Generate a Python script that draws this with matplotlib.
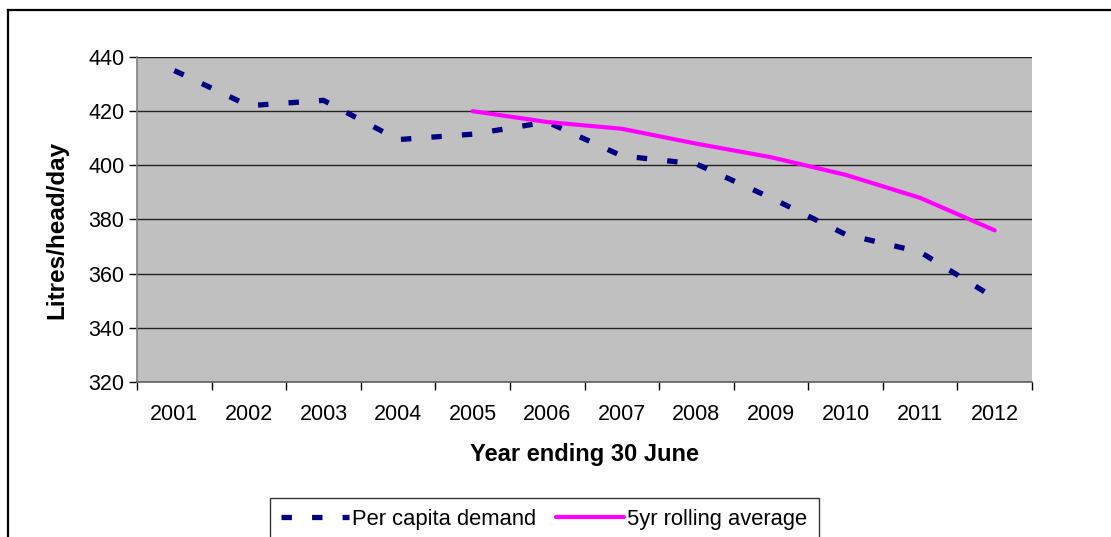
import numpy as np
import matplotlib
matplotlib.use("Agg")
import matplotlib.pyplot as plt
from matplotlib.lines import Line2D

plt.rcParams['font.family'] = ['Liberation Sans', 'DejaVu Sans']
plt.rcParams['lines.scale_dashes'] = False

years = ['2001', '2002', '2003', '2004', '2005', '2006',
         '2007', '2008', '2009', '2010', '2011', '2012']
per_capita = [435, 422, 424, 409.5, 411.5, 416, 403.5, 400.5, 388, 374.5, 368, 351]
rolling_avg = [np.nan, np.nan, np.nan, np.nan, 420, 416, 413.5, 408, 403, 396.5, 388, 376]
y_ticks = [320, 340, 360, 380, 400, 420, 440]

W, H = 1111, 537
fig = plt.figure(figsize=(W / 100, H / 100), dpi=100)
ax = fig.add_axes([137 / W, 1 - 382 / H, (1032 - 137) / W, (382 - 57) / H])
ax.set_facecolor('#C0C0C0')

x = np.arange(len(years))
ax.plot(x, per_capita, color='#000080', lw=3.8, dashes=(7.5, 14.5),
        dash_capstyle='butt', label='Per capita demand', zorder=3)
ax.plot(x, rolling_avg, color='#FF00FF', lw=3.0, solid_capstyle='round',
        label='5yr rolling average', zorder=4)

ax.set_xlim(-0.5, len(years) - 0.5)
ax.set_ylim(320, 440)
ax.set_yticks(y_ticks)
ax.yaxis.grid(True, color='#222222', lw=1.0)
ax.set_axisbelow(True)

ax.set_xticks(x)
ax.set_xticklabels(years)
ax.set_xticks(np.arange(-0.5, len(years)), minor=True)
ax.tick_params(axis='x', which='major', length=0, pad=16, labelsize=15.5)
ax.tick_params(axis='x', which='minor', length=6, width=1, direction='out')
ax.tick_params(axis='y', length=6, width=1, direction='out', pad=3, labelsize=15.5)

for s in ['top', 'right']:
    ax.spines[s].set_visible(False)
ax.spines['left'].set_color('#808080')
ax.spines['bottom'].set_color('#606060')
ax.spines['left'].set_linewidth(1.2)
ax.spines['bottom'].set_linewidth(1.2)

fig.text(57 / W, 1 - 230 / H, 'Litres/head/day', rotation=90, ha='center', va='center',
         fontsize=17.5, fontweight='bold')
fig.text(584 / W, 1 - 455 / H, 'Year ending 30 June', ha='center', va='center',
         fontsize=17, fontweight='bold')

# outer chart frame (runs off the right and bottom edges)
fig.add_artist(Line2D([8 / W, 1.01], [1 - 10 / H, 1 - 10 / H], color='black', lw=1.6))
fig.add_artist(Line2D([8 / W, 8 / W], [1 - 10 / H, -0.01], color='black', lw=1.6))

leg = fig.legend(loc='upper left', bbox_to_anchor=(270 / W, 1 - 498 / H), ncol=2,
                 fontsize=15.8, frameon=True, fancybox=False, edgecolor='black',
                 handlelength=3.1, handletextpad=0.15, columnspacing=0.9,
                 borderpad=0.5, borderaxespad=0)
leg.get_frame().set_linewidth(1.0)

fig.savefig('out.png', dpi=100)
